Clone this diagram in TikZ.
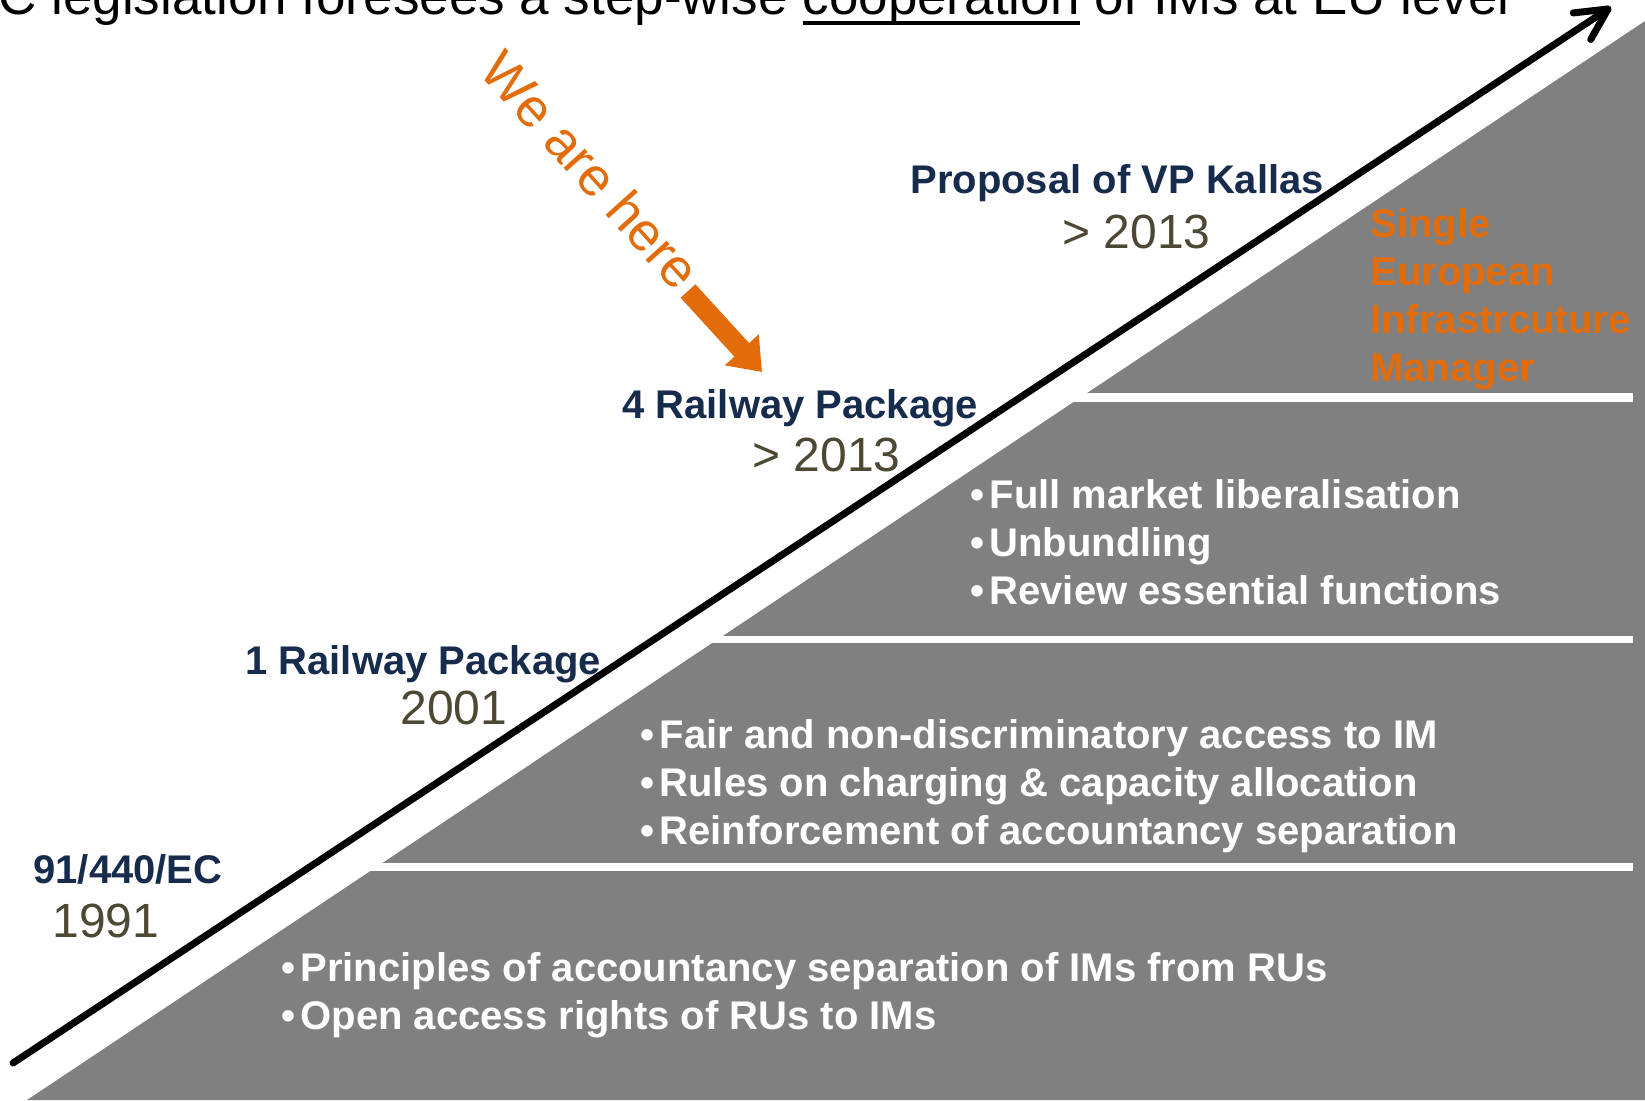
\documentclass[tikz,border=0pt]{standalone}
\usepackage{fontspec}
\setmainfont{Liberation Sans}
\usetikzlibrary{arrows.meta,calc}
\definecolor{navy}{HTML}{172B4D}
\definecolor{olive}{HTML}{4D4834}
\definecolor{band}{HTML}{808080}
\definecolor{orng}{HTML}{E36C0A}
\newcommand\thickul[1]{\leavevmode\setbox0=\hbox{#1}\rlap{\vrule width\wd0 height -3.6pt depth 5.4pt}\box0\relax}
\newcommand\bul{•\hspace{2.6pt}}
\begin{document}
\begin{tikzpicture}[x=0.5pt,y=-0.5pt,
  lbl/.style={anchor=base west,inner sep=0pt,text=navy,font=\fontsize{20pt}{24pt}\selectfont\bfseries},
  yr/.style={anchor=base west,inner sep=0pt,text=olive,font=\fontsize{24pt}{28pt}\selectfont},
  bullet/.style={anchor=base west,inner sep=0pt,text=white,font=\fontsize{20pt}{24pt}\selectfont\bfseries},
  sem/.style={anchor=base west,inner sep=0pt,text=orng,font=\fontsize{20pt}{24pt}\selectfont\bfseries},
  stripe/.style={fill=white,draw=none},
  timeline/.style={draw=black,line width=3.5pt,line cap=round,line join=round}]
\useasboundingbox (0,0) rectangle (1645,1100);
\clip (0,0) rectangle (1645,1100);
% gray staircase
\fill[band] (27,1100) -- (1645,21) -- (1645,1100) -- cycle;
\fill[stripe] (0,393) rectangle (1633,402);
\fill[stripe] (0,635.5) rectangle (1633,643);
\fill[stripe] (0,862.5) rectangle (1633,870.5);
% title
\node[anchor=base west,inner sep=0pt,font=\fontsize{26.5pt}{30pt}\selectfont] (title) at (-2,14)
  {C legislation foresees a step-wise \thickul{cooperation} of IMs at EU level};
% timeline arrow
\coordinate (tail) at (13,1063);
\coordinate (tip) at (1608,9);
\draw[timeline] (tail) -- (tip);
\draw[timeline] ($(tip)!17.5pt!27:(tail)$) -- (tip) -- ($(tip)!17.5pt!-27:(tail)$);
% milestone labels
\node[lbl] (kallas) at (910,193) {Proposal of VP Kallas};
\node[yr] (kallasyr) at (1062,248) {> 2013};
\node[lbl] (rp4) at (622,418) {4 Railway Package};
\node[yr] (rp4yr) at (752,471) {> 2013};
\node[lbl] (rp1) at (245,674) {1 Railway Package};
\node[yr] (rp1yr) at (400,724) {2001};
\node[lbl] (ec) at (33,883) {91/440/EC};
\node[yr] (ecyr) at (52,937) {1991};
% we are here
\node[text=orng,inner sep=0pt,rotate=-48,font=\fontsize{27pt}{30pt}\selectfont] (here) at (591,170) {We are here};
\coordinate (wtail) at (688,291);
\coordinate (wtip) at (762,372);
\draw[orng,line width=10pt,-{Triangle[length=15pt,width=22pt]}] (wtail) -- (wtip);
% band 1
\node[sem] (s1) at (1370,237) {Single};
\node[sem] (s2) at (1370,285) {European};
\node[sem] (s3) at (1370,333) {Infrastrcuture};
\node[sem] (s4) at (1370,381) {Manager};
% band 2
\node[bullet] (b21) at (970,508) {\bul Full market liberalisation};
\node[bullet] (b22) at (970,556) {\bul Unbundling};
\node[bullet] (b23) at (970,604) {\bul Review essential functions};
% band 3
\node[bullet] (b31) at (640,748) {\bul Fair and non-discriminatory access to IM};
\node[bullet] (b32) at (640,796) {\bul Rules on charging \& capacity allocation};
\node[bullet] (b33) at (640,844) {\bul Reinforcement of accountancy separation};
% band 4
\node[bullet] (b41) at (281,981) {\bul Principles of accountancy separation of IMs from RUs};
\node[bullet] (b42) at (281,1029) {\bul Open access rights of RUs to IMs};
\end{tikzpicture}
\end{document}
